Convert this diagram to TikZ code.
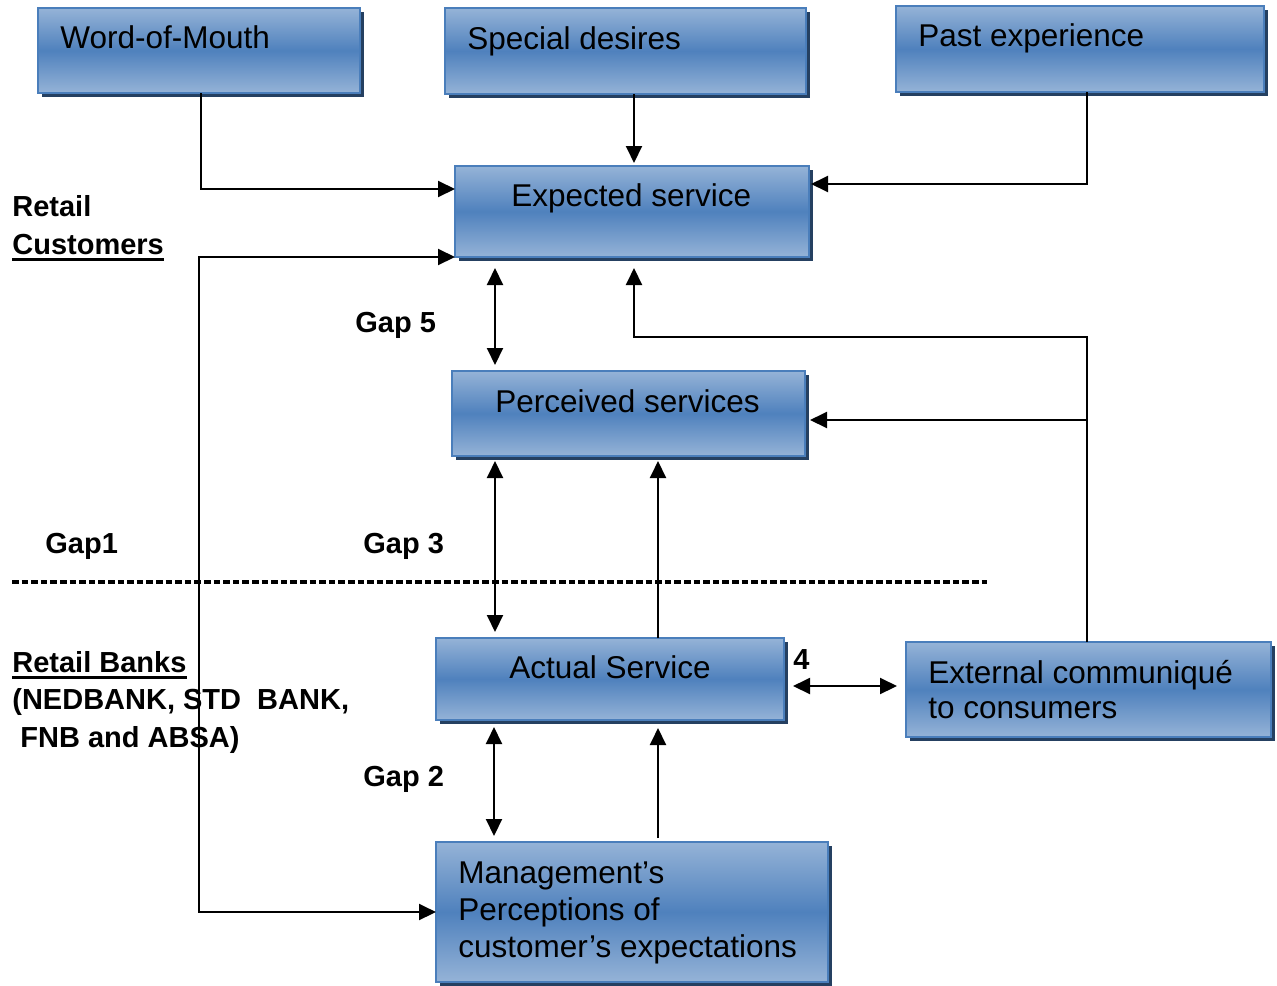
\documentclass[tikz,border=0pt]{standalone}
\usepackage{fontspec}
\setmainfont{Liberation Sans}
\usetikzlibrary{arrows.meta,shadows}
\definecolor{boxlight}{HTML}{95B3D7}
\definecolor{boxmid}{HTML}{4F81BD}
\definecolor{boxedge}{HTML}{4A7EBB}
\definecolor{boxshadow}{HTML}{254061}
\begin{document}
\begin{tikzpicture}[x=0.5pt,y=-0.5pt,
  gapbox/.style 2 args={draw=boxedge, line width=1pt,
    top color=boxlight, bottom color=boxlight, middle color=boxmid,
    drop shadow={shadow xshift=1.75pt,shadow yshift=-2pt,fill=boxshadow,opacity=1},
    minimum width=#1*0.5pt, minimum height=#2*0.5pt, inner sep=0pt, outer sep=0pt},
  boxtext/.style={anchor=base west, inner sep=0pt, align=left,
    font=\fontsize{15.75}{18}\selectfont},
  lbl/.style={anchor=base west, inner sep=0pt, font=\fontsize{14.5}{17}\selectfont\bfseries},
  conn/.style={line width=1pt, -{Triangle[length=8.5pt,width=8pt]}},
  both/.style={line width=1pt, {Triangle[length=8.5pt,width=8pt]}-{Triangle[length=8.5pt,width=8pt]}},
  uline/.style={line width=1.4pt}
]
\useasboundingbox (0,0) rectangle (1277,985);

% boxes of the service-quality gap model
\node[gapbox={322}{85}] (wom) at (199,50.5) {};
\node[gapbox={361}{86}] (sd)  at (625.5,51) {};
\node[gapbox={368}{86}] (px)  at (1080,49) {};
\node[gapbox={354}{91}] (es)  at (632,211.5) {};
\node[gapbox={353}{85}] (ps)  at (628.5,413.5) {};
\node[gapbox={348}{82}] (as)  at (610,679) {};
\node[gapbox={365}{95}] (ec)  at (1088.5,689.5) {};
\node[gapbox={392}{140}] (mg) at (632,912) {};

% box texts (multi-line texts sit on the baseline of their last line)
\node[boxtext] at (60,48)  {Word-of-Mouth};
\node[boxtext] at (467,49) {Special desires};
\node[boxtext] at (918,46) {Past experience};
\node[boxtext] at (511,206) {Expected service};
\node[boxtext] at (495,412) {Perceived services};
\node[boxtext] at (509,678) {Actual Service};
\node[boxtext, font=\fontsize{15.75}{17.5}\selectfont] at (928,718) {External communiqué\\to consumers};
\node[boxtext, font=\fontsize{15.75}{18.5}\selectfont] at (458,957) {Management’s\\Perceptions of\\customer’s expectations};

% side labels
\node[lbl] (rc1) at (12,216) {Retail};
\node[lbl] (rc2) at (12,254) {Customers};
\draw[uline] ([yshift=-2.75pt]rc2.base west) -- ([yshift=-2.75pt]rc2.base east);
\node[lbl] (rb1) at (12,672) {Retail Banks};
\draw[uline] ([yshift=-2.75pt]rb1.base west) -- ([yshift=-2.75pt]rb1.base east);
\node[lbl] (rb2) at (12,709) {(NEDBANK, STD\ \ BANK,};
\node[lbl] (rb3) at (20,747) {FNB and ABSA)};

\node[lbl] (g5) at (355,332) {Gap 5};
\node[lbl] (g1) at (45,553)  {Gap1};
\node[lbl] (g3) at (363,553) {Gap 3};
\node[lbl] (g2) at (363,786) {Gap 2};
\node[lbl] (g4) at (793,669) {4};

% boundary between customers and banks
\draw[line width=1.8pt, dash pattern=on 3.3pt off 1.5pt] (12,582) -- (987,582);

% connectors
\draw[conn] ([xshift=1pt]wom.south) |- ([shift={(0,-22.5)}]es.west);
\draw[conn] ([shift={(8.5,0)}]sd.south) -- ([shift={(2,-3)}]es.north);
\draw[conn] ([shift={(7,0)}]px.south) |- ([shift={(2,-27.5)}]es.east);
\draw[both] (es.south west) -- ++(-256,0) |- (mg.west);
\draw[both] ([shift={(40,11)}]es.south west) -- ([shift={(43,-6)}]ps.north west);
\draw[conn] ([xshift=-0.75pt]ec.north) -- ++(0,-305) -| ([shift={(2,11)}]es.south);
\coordinate (jn) at (ps.east -| ec.north);
\draw[conn] ([shift={(-1.5,6.5)}]jn) -- ([shift={(5,6.5)}]ps.east);
\draw[both] ([shift={(43,5)}]ps.south west) -- ([shift={(59,-6)}]as.north west);
\draw[conn] ([shift={(48,0)}]as.north) -- ([shift={(29.5,5)}]ps.south);
\draw[both] ([shift={(9,7)}]as.east) -- ([shift={(-9,-3.5)}]ec.west);
\draw[both] ([shift={(58,7)}]as.south west) -- ([shift={(58,-6)}]mg.north west);
\draw[conn] ([shift={(26,-4)}]mg.north) -- ([shift={(48,8)}]as.south);
\end{tikzpicture}
\end{document}
